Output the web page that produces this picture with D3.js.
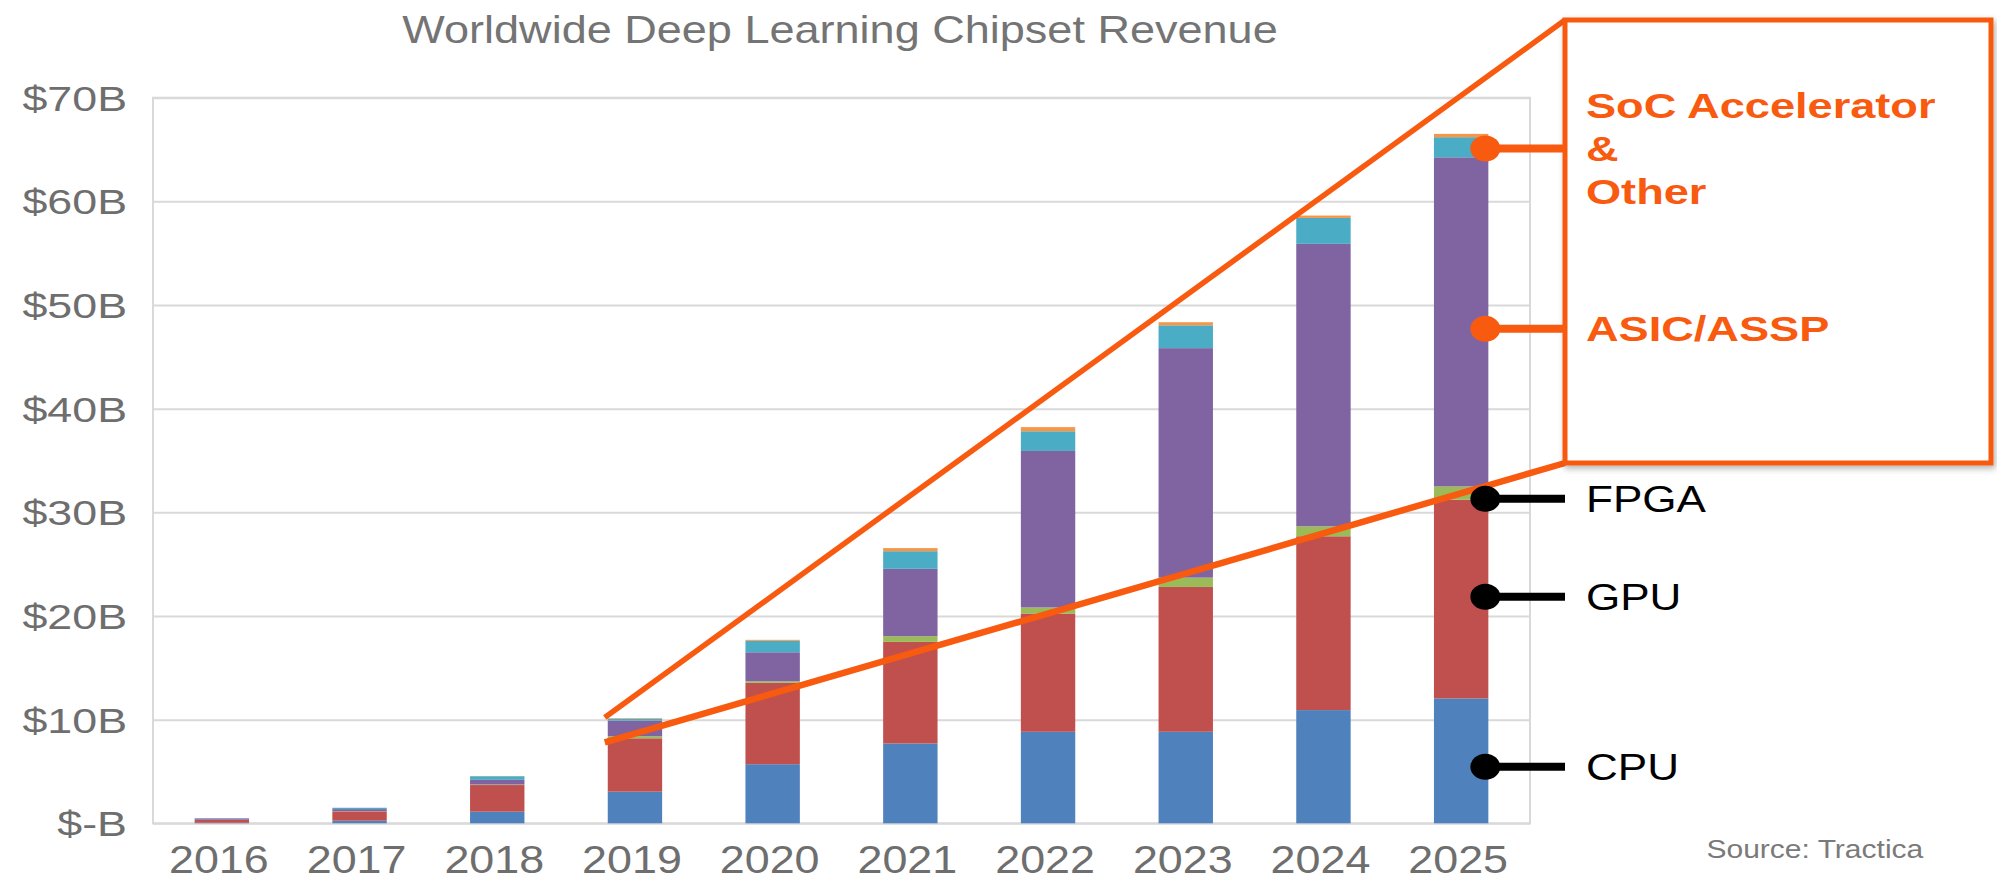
<!DOCTYPE html>
<html>
<head>
<meta charset="utf-8">
<script src="https://cdn.jsdelivr.net/npm/d3@7"></script>
<style>
  html, body { margin: 0; padding: 0; background: #fff; }
  svg { display: block; font-family: "Liberation Sans", Arial, Helvetica, sans-serif; }
</style>
</head>
<body>
<svg id="chart" width="1997" height="887"></svg>
<script>
// values in $B
var years = ["2016", "2017", "2018", "2019", "2020", "2021", "2022", "2023", "2024", "2025"];
var cpu   = [0.05, 0.25, 1.12, 3.05, 5.70, 7.70, 8.83, 8.83, 10.92, 12.05];
var gpu   = [0.30, 0.90, 2.57, 5.15, 7.85, 9.80, 11.41, 13.97, 16.77, 19.18];
var fpga  = [0.00, 0.02, 0.05, 0.20, 0.15, 0.55, 0.58, 0.90, 0.96, 1.27];
var asic  = [0.12, 0.20, 0.45, 1.50, 2.80, 6.50, 15.10, 22.14, 27.25, 31.75];
var soc   = [0.03, 0.13, 0.35, 0.20, 1.10, 1.70, 1.90, 2.20, 2.50, 1.94];
var other = [0.00, 0.00, 0.02, 0.05, 0.10, 0.30, 0.40, 0.30, 0.23, 0.32];

var seriesNames  = ["CPU", "GPU", "FPGA", "ASIC/ASSP", "SoC Accelerator", "Other"];
var seriesValues = [cpu, gpu, fpga, asic, soc, other];
var seriesColors = ["#4f81bd", "#c0504d", "#9bbb59", "#8064a2", "#4bacc6", "#f79646"];

var yTicks      = [0, 10, 20, 30, 40, 50, 60, 70];
var yTickLabels = ["$-B", "$10B", "$20B", "$30B", "$40B", "$50B", "$60B", "$70B"];

var title  = "Worldwide Deep Learning Chipset Revenue";
var source = "Source: Tractica";

// callout labels, anchored at a value on the last bar
var orangeCallouts = [
  { lines: ["SoC Accelerator", "&", "Other"], value: 65.1 },
  { lines: ["ASIC/ASSP"], value: 47.7 }
];
var blackCallouts = [
  { lines: ["FPGA"], value: 31.3 },
  { lines: ["GPU"], value: 21.85 },
  { lines: ["CPU"], value: 5.45 }
];
// zoom lines start on the 2019 bar between these two values
var zoomFrom = { year: "2019", hi: 10.2, lo: 7.8 };

var ORANGE = "#f85a10";
var GRID = "#d9d9d9";

var svg = d3.select("#chart");
var plot = { left: 153, right: 1530, top: 97.7, bottom: 823.3 };
var box = { left: 1565, top: 20, right: 1991, bottom: 463 };

var x = d3.scaleBand().domain(years).range([plot.left, plot.right])
  .paddingInner(0.605).paddingOuter(0.3025);
var y = d3.scaleLinear().domain([0, 70]).range([plot.bottom, plot.top]);

// text in the picture is stretched sideways
function stretchText(parent, px, py, sx) {
  return parent.append("g")
    .attr("transform", "translate(" + px + "," + py + ") scale(" + sx + ",1)")
    .append("text");
}

var defs = svg.append("defs");
var shadow = defs.append("filter").attr("id", "shadow")
  .attr("x", "-5%").attr("y", "-5%").attr("width", "115%").attr("height", "115%");
shadow.append("feDropShadow").attr("dx", 2).attr("dy", 3)
  .attr("stdDeviation", 3).attr("flood-color", "#000").attr("flood-opacity", 0.3);

// title
stretchText(svg, 840, 42.7, 1.17)
  .attr("text-anchor", "middle")
  .style("font-size", "38.5px")
  .attr("fill", "#747474")
  .text(title);

// y axis + gridlines
var syY = 1.28;
var yAxis = svg.append("g")
  .attr("transform", "translate(" + plot.left + ",0)")
  .call(d3.axisLeft(y).tickValues(yTicks)
    .tickFormat(function (d, i) { return yTickLabels[i]; })
    .tickSize(-(plot.right - plot.left)).tickPadding(26));
yAxis.select(".domain").remove();
yAxis.selectAll(".tick line").attr("stroke", GRID).attr("stroke-width", 2);
yAxis.selectAll(".tick text")
  .attr("x", -26 / syY)
  .attr("dy", "0.36em")
  .attr("transform", "scale(" + syY + ",1)")
  .style("font-size", "35px")
  .attr("fill", "#6e6e6e");

// plot frame sides
svg.append("rect")
  .attr("x", plot.left).attr("y", plot.top)
  .attr("width", plot.right - plot.left).attr("height", plot.bottom - plot.top)
  .attr("fill", "none").attr("stroke", GRID).attr("stroke-width", 2);

// x axis labels
var sxX = 1.15;
var xAxis = svg.append("g")
  .attr("transform", "translate(0," + plot.bottom + ")")
  .call(d3.axisBottom(x).tickSize(0).tickPadding(0));
xAxis.select(".domain").remove();
xAxis.selectAll(".tick text")
  .attr("y", 50).attr("dy", 0).attr("x", -3 / sxX)
  .attr("transform", "scale(" + sxX + ",1)")
  .style("font-size", "39px")
  .attr("fill", "#6e6e6e");

// stacked bars
var table = years.map(function (yr, i) {
  var row = { year: yr };
  seriesNames.forEach(function (s, k) { row[s] = seriesValues[k][i]; });
  return row;
});
var stacked = d3.stack().keys(seriesNames)(table);

svg.append("g").selectAll("g")
  .data(stacked)
  .join("g")
  .attr("fill", function (d, k) { return seriesColors[k]; })
  .selectAll("rect")
  .data(function (d) { return d; })
  .join("rect")
  .attr("x", function (d) { return x(d.data.year); })
  .attr("width", x.bandwidth())
  .attr("y", function (d) { return y(d[1]); })
  .attr("height", function (d) { return y(d[0]) - y(d[1]); });

// zoom lines from the 2019 bar to the call-out box
var zx = x(zoomFrom.year) - 3;
svg.append("line")
  .attr("x1", zx).attr("y1", y(zoomFrom.hi))
  .attr("x2", box.left).attr("y2", box.top)
  .attr("stroke", ORANGE).attr("stroke-width", 5.5);
svg.append("line")
  .attr("x1", zx).attr("y1", y(zoomFrom.lo))
  .attr("x2", box.left).attr("y2", box.bottom)
  .attr("stroke", ORANGE).attr("stroke-width", 6.5);

// call-out box
svg.append("rect")
  .attr("x", box.left).attr("y", box.top)
  .attr("width", box.right - box.left).attr("height", box.bottom - box.top)
  .attr("fill", "#fff").attr("stroke", ORANGE).attr("stroke-width", 5)
  .attr("filter", "url(#shadow)");

var dotX = x(years[years.length - 1]) + x.bandwidth() - 3;
var textX = 1586;

function drawCallouts(list, color, fontSize, weight, sx, lineGap, capHalf) {
  list.forEach(function (c) {
    var cy = y(c.value);
    svg.append("line")
      .attr("x1", dotX).attr("y1", cy).attr("x2", box.left).attr("y2", cy)
      .attr("stroke", color).attr("stroke-width", 8);
    svg.append("ellipse")
      .attr("cx", dotX).attr("cy", cy).attr("rx", 15).attr("ry", 13)
      .attr("fill", color);
    var n = c.lines.length;
    c.lines.forEach(function (t, i) {
      stretchText(svg, textX, cy + (i - (n - 1) / 2) * lineGap + capHalf, sx)
        .style("font-size", fontSize + "px")
        .style("font-weight", weight)
        .attr("fill", color)
        .text(t);
    });
  });
}

drawCallouts(orangeCallouts, ORANGE, 35, "bold", 1.29, 43, 12.5);
drawCallouts(blackCallouts, "#000", 37, "normal", 1.19, 43, 13.3);

// source
stretchText(svg, 1706.5, 858, 1.2)
  .style("font-size", "25px")
  .attr("fill", "#7a7a7a")
  .text(source);
</script>
</body>
</html>
